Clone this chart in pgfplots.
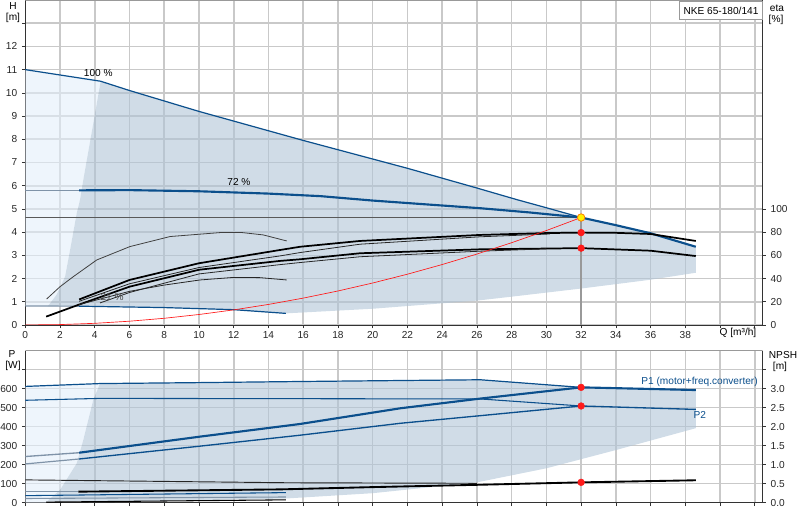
\documentclass[border=0pt]{standalone}
\usepackage{pgfplots}
\pgfplotsset{compat=1.18}
\usepackage{fontspec}
\setmainfont{Liberation Sans}

\definecolor{gblue}{HTML}{0B4F8C}
\definecolor{shade}{HTML}{B1C5D7}
\definecolor{lshade}{HTML}{E3EEFA}
\definecolor{gridc}{HTML}{C9C9C9}
\definecolor{stub}{HTML}{7F93A8}
\definecolor{opred}{HTML}{FF1A1A}

\newcommand{\fs}{\fontsize{7.6}{9}\selectfont}

\pgfplotsset{
  pump/.style={
    scale only axis, width=553pt, anchor=south west,
    xmin=0, xmax=42.45,
    tick align=outside, major tick length=2.5pt,
    tick style={black!80, line width=0.5pt},
    axis line style={black!80, line width=0.7pt},
    ticklabel style={font=\fs, text=black!85},
    /pgf/number format/assume math mode=true,
    grid=major, grid style={gridc, line width=1.2pt},
    xtick={0,2,...,42},
  },
}

\begin{document}
\begin{tikzpicture}
\path[use as bounding box] (0,0) rectangle (600pt,390pt);

% ---------- upper panel: head ----------
\begin{axis}[pump, at={(18.98pt,146.25pt)}, height=243.75pt,
  ymin=0, ymax=14, axis x line*=bottom, axis y line*=left,
  xticklabels={0,2,4,6,8,10,12,14,16,18,20,22,24,26,28,30,32,34,36,38,{},{}},
  xticklabel style={yshift=1pt},
  ytick={0,1,...,13}, yticklabels={0,1,2,3,4,5,6,7,8,9,10,11,12,{}},
]
% operating ranges
\addplot[draw=none, fill=lshade, fill opacity=0.6] coordinates {
  (0,0.82) (0,11.0) (4.34,10.5) (3.8,8.2) (3.34,6.25) (3.15,5.39) (2.96,4.81)
  (2.62,3.4) (2.29,2.08) (1.8,1.3) (1.29,0.8)} -- cycle;
\addplot[draw=none, fill=shade, fill opacity=0.6] coordinates {
  (1.29,0.8) (1.8,1.3) (2.29,2.08) (2.62,3.4) (2.96,4.81) (3.15,5.39) (3.34,6.25) (3.8,8.2) (4.34,10.5)
  (6,10.1) (10,9.2) (16,7.95) (22,6.75) (26,5.9) (28.3,5.4) (30,5.05) (32,4.63) (34,4.3) (36,3.95) (38.6,3.37)
  (38.6,2.25) (36,1.95) (32,1.57) (28,1.22) (26,1.05) (20,0.7) (15,0.5)
  (12,0.66) (8,0.75) (3.1,0.81) (1.29,0.8)} -- cycle;

% duty point guides
\addplot[black!65, line width=0.6pt] coordinates {(0,4.63) (32,4.63)};
\addplot[black!40, line width=1.1pt] coordinates {(32,0) (32,4.63)};

% QH curves
\addplot[gblue, line width=0.9pt] coordinates {
  (0,11.0) (4.34,10.5) (6,10.1) (10,9.2) (16,7.95) (22,6.75) (26,5.9) (28.3,5.4) (30,5.05) (32,4.63)};
\addplot[stub, line width=1pt] coordinates {(0,5.8) (3.1,5.8)};
\addplot[gblue, line width=1.6pt] coordinates {
  (3.1,5.8) (6,5.81) (10,5.76) (14,5.66) (17,5.55) (20,5.36) (23,5.2) (26.2,5.03)
  (29,4.85) (32,4.63) (34,4.3) (36,3.95) (38.6,3.37)};
\addplot[stub, line width=0.9pt] coordinates {(0,0.82) (3.1,0.81)};
\addplot[gblue, line width=0.9pt] coordinates {(3.1,0.81) (8,0.75) (12,0.66) (15,0.5)};

% efficiency curves (eta in %, right scale = 20 x H)
\addplot[black, line width=1.3pt] table[row sep=\\, y expr=\thisrow{e}/20] {
  x e\\ 3.1 22\\ 6 38.8\\ 10 53.2\\ 14.66 64.6\\ 15.82 67.4\\ 19.27 72.4\\ 26.2 77.6\\
  30 79.2\\ 32 79.6\\ 34 79.4\\ 36 78.4\\ 38.6 72.4\\};
\addplot[black!85, line width=0.6pt] table[row sep=\\, y expr=\thisrow{e}/20] {
  x e\\ 3.1 20.4\\ 6 35.5\\ 10 49.5\\ 14.66 59.5\\ 15.82 62.4\\ 19.27 69.6\\ 26.2 76\\ 30.2 78.4\\};
\addplot[black, line width=1.3pt] table[row sep=\\, y expr=\thisrow{e}/20] {
  x e\\ 1.2 7.2\\ 3.1 17.6\\ 6 33\\ 10 47.6\\ 14.66 55.2\\ 15.82 56.6\\ 19.27 61.8\\
  26.2 65.2\\ 32 66.2\\ 36 64\\ 38.6 59.4\\};
\addplot[black!85, line width=0.6pt] table[row sep=\\, y expr=\thisrow{e}/20] {
  x e\\ 4.3 19\\ 6 28\\ 10 44\\ 14.66 52\\ 15.82 53.8\\ 19.27 58.8\\ 26.2 63.6\\ 30 65.6\\};
\addplot[black!75, line width=0.6pt] table[row sep=\\, y expr=\thisrow{e}/20] {
  x e\\ 1.23 22.4\\ 2.0 33\\ 2.76 41.6\\ 4.11 56\\ 6.03 67.6\\ 8.33 76.2\\ 11.2 79.6\\
  12.5 79.6\\ 13.7 77.6\\ 15.05 72.4\\};
\addplot[black!85, line width=0.6pt] table[row sep=\\, y expr=\thisrow{e}/20] {
  x e\\ 3.1 17.6\\ 6 29\\ 8 34.4\\ 10.06 38.8\\ 12 41\\ 13.5 40.8\\ 15.05 38.8\\};

% system curve
\addplot[opred, line width=0.5pt] coordinates {
  (0,0) (2,0.018) (4,0.072) (6,0.163) (8,0.289) (10,0.452) (12,0.651) (14,0.886) (16,1.158)
  (18,1.465) (20,1.809) (22,2.188) (24,2.604) (26,3.056) (28,3.545) (30,4.069) (32,4.63)};

% duty point
\addplot[only marks, mark=*, mark size=2.5pt, opred, mark options={draw=none}]
  table[row sep=\\, y expr=\thisrow{e}/20] {x e\\ 32 79.6\\ 32 66.2\\};
\addplot[only marks, mark=*, mark size=2.8pt, mark options={fill=yellow, draw=orange, line width=0.6pt}]
  coordinates {(32,4.63)};

\node[font=\fs] at (axis cs:4.2,10.87) {100 \%};
\node[font=\fs] at (axis cs:12.3,6.18) {72 \%};
\node[font=\fs, text=black!70] at (axis cs:5.0,1.2) {21 \%};
\draw[black!40, line width=0.6pt] (rel axis cs:0,1) -- (rel axis cs:1,1);
\end{axis}

\begin{axis}[pump, at={(18.98pt,146.25pt)}, height=243.75pt,
  ymin=0, ymax=280, axis x line=none, axis y line*=right, grid=none,
  ytick={0,20,...,100},
]
\end{axis}

% ---------- lower panel: power and NPSH ----------
\begin{axis}[pump, at={(18.98pt,12.98pt)}, height=114pt,
  ymin=0, ymax=800, axis x line*=bottom, axis y line*=left,
  xticklabel=\empty,
  ytick={0,100,...,700}, yticklabels={0,100,200,300,400,500,600,{}},
]
\addplot[draw=none, fill=lshade, fill opacity=0.6] coordinates {
  (0,0) (0,612) (4.3,627) (3.91,540) (3.34,330) (2.96,207) (2.0,67) (1.23,5) (1.23,0)} -- cycle;
\addplot[draw=none, fill=shade, fill opacity=0.6] coordinates {
  (1.23,5) (2.0,67) (2.96,207) (3.34,330) (3.91,540) (4.3,627) (10,632) (16,638) (21.6,643)
  (26.2,647) (32,607) (38.6,593) (38.6,392) (34,277) (30,181) (26,107) (20,50) (15,22) (8,10) (1.23,5)} -- cycle;

% P1
\addplot[gblue, line width=0.9pt] coordinates {
  (0,612) (4.3,627) (10,632) (16,638) (21.6,643) (26.2,647) (32,607)};
\addplot[stub, line width=1pt] coordinates {(0,243) (3.1,263)};
\addplot[gblue, line width=1.6pt] coordinates {
  (3.1,263) (10,347) (15.8,414) (21.6,497) (26.2,548) (32,607) (38.6,593)};
% P2
\addplot[gblue, line width=0.8pt] coordinates {(0,539) (4.3,549) (26.2,546) (32,509)};
\addplot[stub, line width=0.9pt] coordinates {(0,204) (3.1,230)};
\addplot[gblue, line width=1.0pt] coordinates {
  (3.1,230) (10,297) (15.8,355) (21.6,418) (26.2,458) (32,509) (38.6,491)};

% low-speed power curves
\addplot[gblue, line width=0.8pt] coordinates {(0,37) (15,53)};
\addplot[stub, line width=0.8pt] coordinates {(0,22) (15,30)};
\addplot[black, line width=0.8pt] coordinates {(1.2,3) (15,15)};

% NPSH (m, right scale = P/200)
\addplot[black!85, line width=0.7pt] table[row sep=\\, y expr=\thisrow{n}*200] {
  x n\\ 0 0.6\\ 8 0.56\\ 15 0.525\\ 26 0.51\\};
\addplot[stub, line width=1pt] table[row sep=\\, y expr=\thisrow{n}*200] {
  x n\\ 0 0.29\\ 3.05 0.29\\};
\addplot[black, line width=1.4pt] table[row sep=\\, y expr=\thisrow{n}*200] {
  x n\\ 3.05 0.29\\ 14.66 0.35\\ 20 0.41\\ 26 0.47\\ 32 0.535\\ 38.6 0.59\\};

\addplot[only marks, mark=*, mark size=2.5pt, opred, mark options={draw=none}]
  coordinates {(32,607) (32,509) (32,107)};

\node[font=\fs, text=gblue, anchor=west] at (axis cs:35.2,637) {P1 (motor+freq.converter)};
\node[font=\fs, text=gblue, anchor=west] at (axis cs:38.2,460) {P2};
\draw[black!40, line width=0.6pt] (rel axis cs:0,1) -- (rel axis cs:1,1);
\end{axis}

\begin{axis}[pump, at={(18.98pt,12.98pt)}, height=114pt,
  ymin=0, ymax=4, axis x line=none, axis y line*=right, grid=none,
  ytick={0,0.5,...,3.5}, yticklabels={0.0,0.5,1.0,1.5,2.0,2.5,3.0,{}},
]
\end{axis}

% axis titles
\node[font=\fs] at (9.75pt,385.5pt) {H};
\node[font=\fs] at (9.75pt,376.5pt) {[m]};
\node[font=\fs] at (582.75pt,384pt) {eta};
\node[font=\fs] at (582pt,375pt) {[\%]};
\node[font=\fs] at (553.5pt,140.25pt) {Q [m³/h]};
\node[font=\fs] at (9pt,124.5pt) {P};
\node[font=\fs] at (9.75pt,115.5pt) {[W]};
\node[font=\fs] at (587.25pt,123.75pt) {NPSH};
\node[font=\fs] at (585pt,114.75pt) {[m]};
\node[draw=black!40, fill=white, font=\fs, minimum width=62.5pt, minimum height=13.2pt, inner sep=1pt]
  at (540.75pt,382.1pt) {NKE 65-180/141};
\end{tikzpicture}
\end{document}
